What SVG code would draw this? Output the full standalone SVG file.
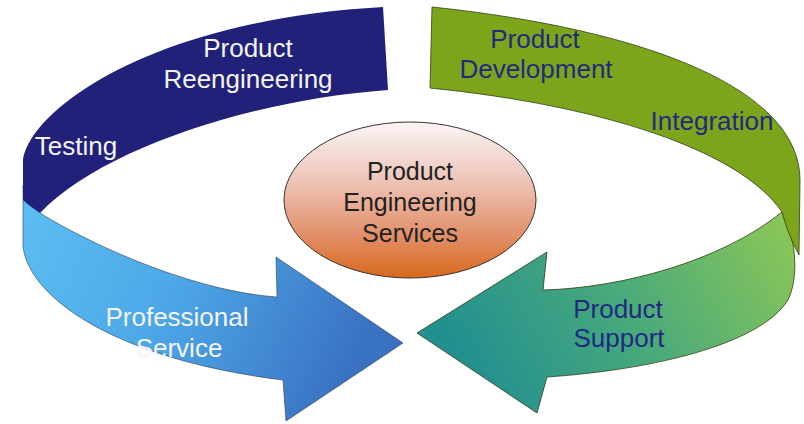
<svg xmlns="http://www.w3.org/2000/svg" width="804" height="424" viewBox="0 0 804 424">
  <defs>
    <linearGradient id="gBlue" x1="0" y1="0" x2="1" y2="0.3">
      <stop offset="0" stop-color="#5cc0f3"/>
      <stop offset="0.5" stop-color="#4ca6e6"/>
      <stop offset="1" stop-color="#3a72c2"/>
    </linearGradient>
    <linearGradient id="gGreen" x1="0" y1="0.3" x2="1" y2="0">
      <stop offset="0" stop-color="#23908f"/>
      <stop offset="0.45" stop-color="#48a97c"/>
      <stop offset="1" stop-color="#8fc855"/>
    </linearGradient>
    <linearGradient id="gCore" x1="0" y1="0" x2="0" y2="1">
      <stop offset="0" stop-color="#faf5f5"/>
      <stop offset="0.35" stop-color="#eec8bd"/>
      <stop offset="0.72" stop-color="#e2906a"/>
      <stop offset="1" stop-color="#d8681c"/>
    </linearGradient>
    <style>
      text { font-family: "Liberation Sans", Arial, sans-serif; font-size: 26px; text-anchor: middle; }
      .light { fill: #f4f4f6; }
      .navy { fill: #1f2a7e; }
      .dark { fill: #222222; font-size: 25px; }
      .edge { stroke: #2a3340; stroke-width: 0.8; stroke-opacity: 0.7; }
      .gedge { stroke: #2e4010; stroke-width: 1; stroke-opacity: 0.8; }
    </style>
  </defs>
  <rect width="804" height="424" fill="#ffffff"/>

  <g id="professional-service">
    <path class="edge" fill="url(#gBlue)" d="M23,185 L23,247 C30,300 120,360 283,380 L286,421 L403,343 L276,257 L277,297 C200,292 100,250 40,213 Z"/>
    <text class="light" x="177" y="326">Professional</text>
    <text class="light" x="179" y="357">Service</text>
  </g>

  <g id="product-reengineering">
    <path fill="#212179" d="M23,200 L23,160 C30,110 150,20 383,7 L388,90 C250,100 100,150 40,213 Q28,205 23,200 Z"/>
    <text class="light" x="248" y="57">Product</text>
    <text class="light" x="248" y="88">Reengineering</text>
    <text class="light" x="76" y="155">Testing</text>
  </g>

  <g id="product-support">
    <path class="gedge" fill="url(#gGreen)" d="M782,212 C795,235 800,275 788,300 C760,345 650,370 547,377 L537,413 L417,333 L547,252 L543,290 C620,288 720,262 782,212 Z"/>
    <text class="navy" x="618" y="318">Product</text>
    <text class="navy" x="619" y="347">Support</text>
  </g>

  <g id="product-development">
    <path class="gedge" fill="#7ca51b" d="M432,7 C650,30 800,90 800,180 L799,255 Q788,235 782,212 C740,150 600,105 430,88 Z"/>
    <text class="navy" x="535" y="48">Product</text>
    <text class="navy" x="536" y="78">Development</text>
    <text class="navy" x="712" y="130">Integration</text>
  </g>

  <g id="product-engineering-services">
    <ellipse cx="410" cy="200" rx="126" ry="78" fill="url(#gCore)" stroke="#3a3030" stroke-width="1"/>
    <text class="dark" x="410" y="180">Product</text>
    <text class="dark" x="410" y="211">Engineering</text>
    <text class="dark" x="410" y="242">Services</text>
  </g>

  <g id="connectors"/>
</svg>
